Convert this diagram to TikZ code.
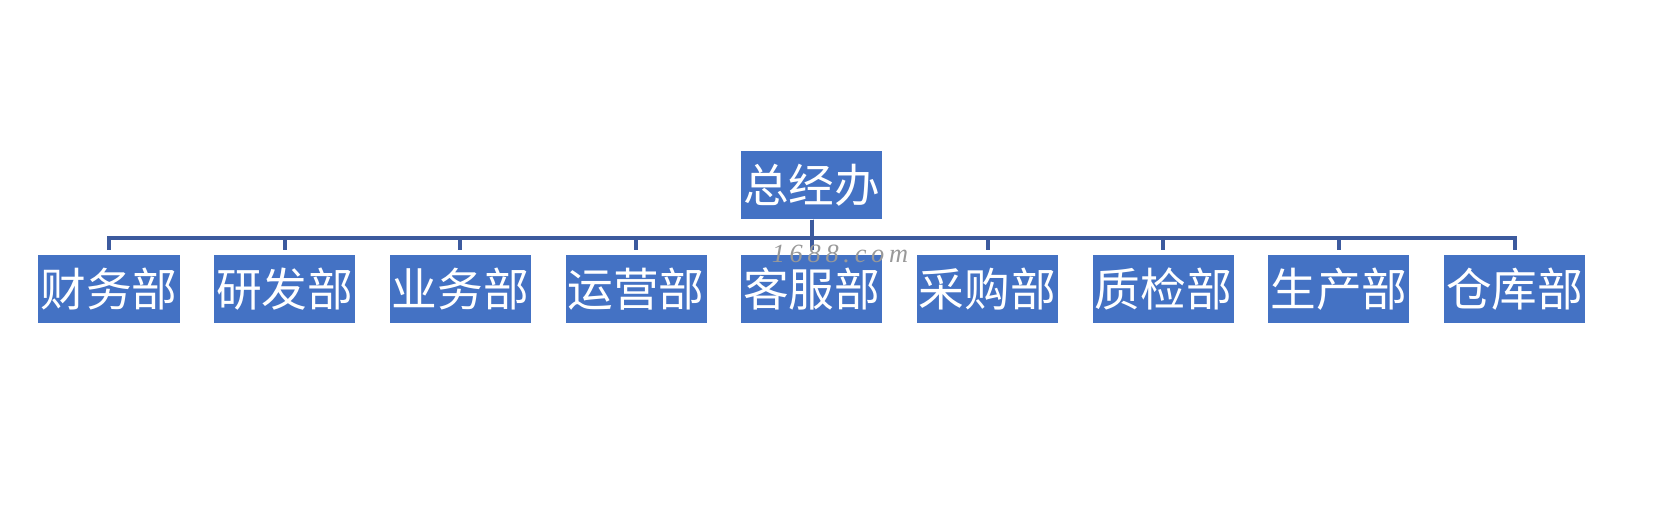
\documentclass[tikz,border=0pt]{standalone}
\usepackage{fontspec}
\setmainfont{Liberation Serif}
\newfontfamily\cjk{Noto Sans CJK SC}
\newfontfamily\wmfont[LetterSpace=18]{Liberation Serif}
\usepackage{tikz}
\usetikzlibrary{positioning}
\definecolor{BoxBlue}{RGB}{68,114,196}
\definecolor{LineBlue}{RGB}{60,90,158}

\begin{document}
\begin{tikzpicture}[
    node distance=0.68cm,
    dept/.style={rectangle, fill=BoxBlue, text=white, inner sep=0pt,
        minimum width=2.82cm, minimum height=1.36cm, font=\cjk\fontsize{26pt}{30pt}\selectfont},
    link/.style={draw=LineBlue, line width=0.08cm},
]
\useasboundingbox (0,0) rectangle (33.56,-10.2);

\node[dept] (d1) at (2.18,-5.78) {财务部};
\node[dept, right=of d1] (d2) {研发部};
\node[dept, right=of d2] (d3) {业务部};
\node[dept, right=of d3] (d4) {运营部};
\node[dept, right=of d4] (d5) {客服部};
\node[dept, right=of d5] (d6) {采购部};
\node[dept, right=of d6] (d7) {质检部};
\node[dept, right=of d7] (d8) {生产部};
\node[dept, right=of d8] (d9) {仓库部};

\node[dept, above=0.7cm of d5] (zjb) {总经办};

\foreach \d in {d1,d2,d3,d4,d5,d6,d7,d8,d9}
    \draw[link] (zjb.south) |- ([yshift=0.34cm]\d.north) -- ([yshift=0.1cm]\d.north);

% watermark
\node[text=gray!80, inner sep=0pt, font=\wmfont\itshape\fontsize{15pt}{17pt}\selectfont] (wmark) at (16.8,-5.07) {1688.com};
\end{tikzpicture}
\end{document}
